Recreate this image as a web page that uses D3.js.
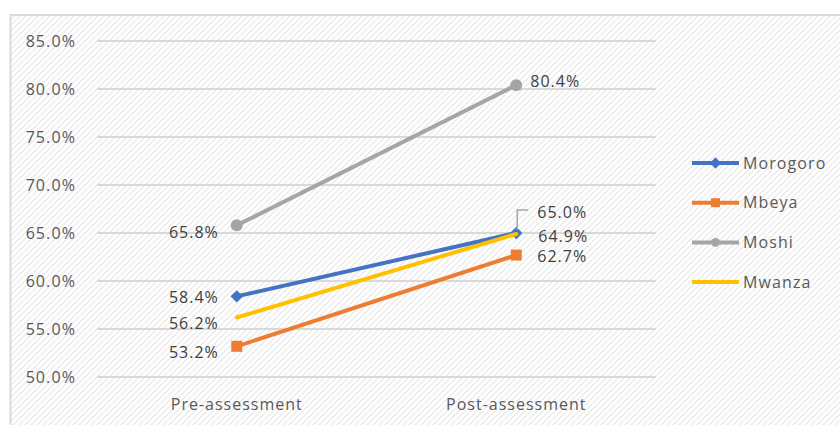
<!DOCTYPE html>
<html>
<head>
<meta charset="utf-8">
<script src="https://cdn.jsdelivr.net/npm/d3@7"></script>
<style>
  html, body { margin: 0; padding: 0; background: #fff; }
  svg { display: block; font-family: "Open Sans", "Noto Sans", sans-serif; }
</style>
</head>
<body>
<svg id="chart" width="840" height="425"></svg>
<script>
// ---- data ----
const categories = ["Pre-assessment", "Post-assessment"];
const seriesNames = ["Morogoro", "Mbeya", "Moshi", "Mwanza"];
const morogoro = [0.584, 0.650];
const mbeya = [0.532, 0.627];
const moshi = [0.658, 0.804];
const mwanza = [0.562, 0.649];
const yTicks = [0.50, 0.55, 0.60, 0.65, 0.70, 0.75, 0.80, 0.85];

const seriesValues = [morogoro, mbeya, moshi, mwanza];
const colors = ["#4472C4", "#ED7D31", "#A5A5A5", "#FFC000"];
const markers = ["diamond", "square", "circle", "none"];
// label placement (dx, dy) relative to the point, per series per category
const labelPlace = [
  [[-18, 1], [21, -21]],
  [[-18, 6], [21, 1]],
  [[-18, 7], [14, -4]],
  [[-18, 6], [22, 2]]
];

const svg = d3.select("#chart");
const defs = svg.append("defs");
const pat = defs.append("pattern").attr("id", "hatch").attr("patternUnits", "userSpaceOnUse")
  .attr("width", 6).attr("height", 6);
pat.append("rect").attr("width", 6).attr("height", 6).attr("fill", "#ffffff");
pat.append("path").attr("d", "M-1,1 l2,-2 M0,6 l6,-6 M5,7 l2,-2")
  .attr("stroke", "#ececec").attr("stroke-width", 1.5);

svg.append("rect").attr("x", 10.5).attr("y", 15).attr("width", 840).attr("height", 420)
  .attr("fill", "url(#hatch)").attr("stroke", "#d9d9d9").attr("stroke-width", 2);

const plot = { left: 97, right: 656, top: 41, bottom: 377 };
const x = d3.scaleBand().domain(categories).range([plot.left, plot.right]);
const cx = c => x(c) + x.bandwidth() / 2;
const y = d3.scaleLinear().domain([0.50, 0.85]).range([plot.bottom, plot.top]);
const pct = d3.format(".1%");

// gridlines
svg.append("g").selectAll("line").data(yTicks).join("line")
  .attr("x1", plot.left).attr("x2", plot.right)
  .attr("y1", d => y(d)).attr("y2", d => y(d))
  .attr("stroke", "#d9d9d9").attr("stroke-width", 2);

// y axis
const yAxis = svg.append("g").attr("transform", `translate(${plot.left},0)`)
  .call(d3.axisLeft(y).tickValues(yTicks).tickFormat(pct).tickSize(0).tickPadding(21));
yAxis.select(".domain").remove();
yAxis.selectAll("text").attr("font-size", 16).attr("fill", "#595959")
  .attr("font-family", "Open Sans, sans-serif").style("letter-spacing", "1.1px");

// x axis
const xAxis = svg.append("g").attr("transform", `translate(0,${plot.bottom})`)
  .call(d3.axisBottom(x).tickSize(0).tickPadding(22));
xAxis.select(".domain").remove();
xAxis.selectAll("text").attr("font-size", 16).attr("fill", "#595959")
  .attr("font-family", "Open Sans, sans-serif").style("letter-spacing", "1px");

function drawMarker(g, type, color, px, py, size) {
  if (type === "diamond") {
    g.append("path").attr("d", d3.symbol(d3.symbolDiamond2 || d3.symbolDiamond, size * 9)())
      .attr("transform", `translate(${px},${py})`).attr("fill", color);
  } else if (type === "square") {
    g.append("rect").attr("x", px - size / 2).attr("y", py - size / 2)
      .attr("width", size).attr("height", size).attr("fill", color);
  } else if (type === "circle") {
    g.append("circle").attr("cx", px).attr("cy", py).attr("r", size / 2).attr("fill", color);
  }
}

const line = d3.line().x(d => cx(d.c)).y(d => y(d.v));
seriesValues.forEach((vals, i) => {
  const pts = categories.map((c, j) => ({ c, v: vals[j] }));
  const g = svg.append("g");
  g.append("path").attr("d", line(pts)).attr("fill", "none")
    .attr("stroke", colors[i]).attr("stroke-width", 4).attr("stroke-linecap", "round");
  pts.forEach(p => drawMarker(g, markers[i], colors[i], cx(p.c), y(p.v), i === 2 ? 12 : 11));
});

// leader line for Morogoro post label
{
  const px = cx(categories[1]), py = y(morogoro[1]);
  svg.append("path").attr("d", `M${px + 1},${py - 3} L${px + 1},${py - 23} L${px + 12},${py - 23}`)
    .attr("fill", "none").attr("stroke", "#a6a6a6").attr("stroke-width", 1.5);
}

// data labels
seriesValues.forEach((vals, i) => {
  categories.forEach((c, j) => {
    const [dx, dy] = labelPlace[i][j];
    svg.append("text")
      .attr("x", cx(c) + dx).attr("y", y(vals[j]) + dy)
      .attr("dy", "0.35em")
      .attr("text-anchor", j === 0 ? "end" : "start")
      .attr("font-size", 16).attr("fill", "#404040")
      .style("letter-spacing", "1px")
      .text(pct(vals[j]));
  });
});

// legend
const legend = svg.append("g");
seriesNames.forEach((n, i) => {
  const ly = 163 + i * 39.7;
  const g = legend.append("g");
  g.append("line").attr("x1", 692).attr("x2", 739).attr("y1", ly).attr("y2", ly)
    .attr("stroke", colors[i]).attr("stroke-width", 4);
  drawMarker(g, markers[i], colors[i], 715.5, ly, 9);
  g.append("text").attr("x", 743).attr("y", ly).attr("dy", "0.35em")
    .attr("font-size", 16).attr("fill", "#595959").style("letter-spacing", "1.1px").text(n);
});
</script>
</body>
</html>
